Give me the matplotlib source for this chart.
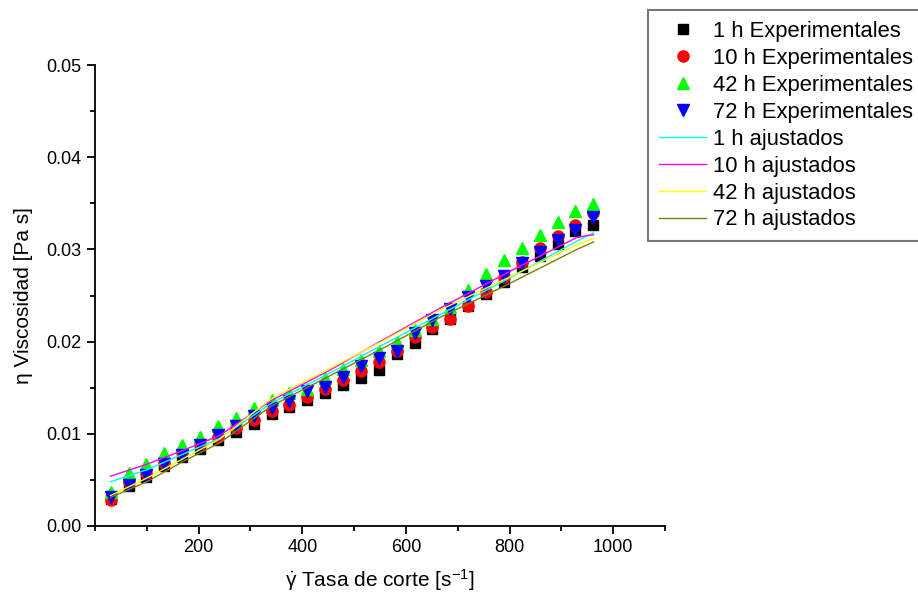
import matplotlib
matplotlib.use("Agg")
import matplotlib.pyplot as plt
from matplotlib.ticker import MultipleLocator, FormatStrFormatter

plt.rcParams['font.family'] = ['Liberation Sans', 'DejaVu Sans']
plt.rcParams['mathtext.fontset'] = 'custom'
plt.rcParams['mathtext.rm'] = 'Liberation Sans'
plt.rcParams['mathtext.it'] = 'Liberation Sans'

# Shear rate (x) for experimental points
shear_rate = [30, 65, 99, 134, 168, 203, 237, 272, 306, 341, 375, 410, 444, 479,
              513, 548, 582, 617, 651, 686, 720, 755, 789, 824, 858, 893, 927, 962]

visc_1h = [0.0029, 0.0043, 0.0053, 0.0065, 0.0075, 0.0084, 0.0093, 0.0102, 0.0111, 0.0121,
           0.0129, 0.0137, 0.0144, 0.0153, 0.0160, 0.0169, 0.0187, 0.0198, 0.0214, 0.0225,
           0.0239, 0.0252, 0.0265, 0.0281, 0.0293, 0.0306, 0.0320, 0.0326]
visc_10h = [0.0028, 0.0048, 0.0057, 0.0068, 0.0080, 0.0089, 0.0096, 0.0106, 0.0115, 0.0125,
            0.0131, 0.0140, 0.0149, 0.0158, 0.0168, 0.0178, 0.0190, 0.0205, 0.0216, 0.0225,
            0.0239, 0.0254, 0.0270, 0.0286, 0.0302, 0.0314, 0.0326, 0.0339]
visc_42h = [0.0037, 0.0058, 0.0067, 0.0079, 0.0088, 0.0097, 0.0108, 0.0117, 0.0128, 0.0137,
            0.0144, 0.0149, 0.0160, 0.0170, 0.0180, 0.0190, 0.0200, 0.0213, 0.0225, 0.0238,
            0.0256, 0.0273, 0.0288, 0.0301, 0.0316, 0.0330, 0.0342, 0.0349]
visc_72h = [0.0031, 0.0044, 0.0055, 0.0067, 0.0077, 0.0088, 0.0099, 0.0108, 0.0119, 0.0128,
            0.0136, 0.0146, 0.0151, 0.0162, 0.0173, 0.0182, 0.0190, 0.0209, 0.0223, 0.0235,
            0.0248, 0.0260, 0.0271, 0.0285, 0.0297, 0.0310, 0.0321, 0.0335]

# Fitted curves
fit_x = [30, 100, 170, 240, 340, 450, 550, 665, 800, 930, 962]
fit_1h = [0.0048, 0.0061, 0.0078, 0.0095, 0.0133, 0.0165, 0.0195, 0.0229, 0.0269, 0.0309, 0.0318]
fit_10h = [0.0054, 0.0067, 0.0082, 0.0098, 0.0136, 0.0168, 0.0200, 0.0236, 0.0276, 0.0313, 0.0316]
fit_42h = [0.0033, 0.0052, 0.0073, 0.0094, 0.0138, 0.0170, 0.0199, 0.0234, 0.0270, 0.0305, 0.0312]
fit_72h = [0.0031, 0.0048, 0.0070, 0.0090, 0.0130, 0.0162, 0.0191, 0.0226, 0.0263, 0.0300, 0.0308]

fig = plt.figure(figsize=(9.18, 5.98), dpi=100)
ax = fig.add_axes([95/918, 1-526/598, (665-95)/918, (526-65)/598])

h1, = ax.plot(shear_rate, visc_1h, 's', color='black', ms=6.5, ls='none', label='1 h Experimentales')
h2, = ax.plot(shear_rate, visc_10h, 'o', color='#ff0000', ms=8, ls='none', label='10 h Experimentales')
h3, = ax.plot(shear_rate, visc_42h, '^', color='#00ff00', ms=8.5, ls='none', label='42 h Experimentales')
h4, = ax.plot(shear_rate, visc_72h, 'v', color='#0000ff', ms=8.5, ls='none', label='72 h Experimentales')
l1, = ax.plot(fit_x, fit_1h, '-', color='#00ffff', lw=1.0, label='1 h ajustados')
l2, = ax.plot(fit_x, fit_10h, '-', color='#ff00ff', lw=1.0, label='10 h ajustados')
l3, = ax.plot(fit_x, fit_42h, '-', color='#ffff00', lw=1.0, label='42 h ajustados')
l4, = ax.plot(fit_x, fit_72h, '-', color='#808000', lw=1.0, label='72 h ajustados')

ax.set_xlim(0, 1100)
ax.set_ylim(0, 0.05)
ax.xaxis.set_minor_locator(MultipleLocator(100))
ax.yaxis.set_major_locator(MultipleLocator(0.01))
ax.yaxis.set_minor_locator(MultipleLocator(0.005))
ax.yaxis.set_major_formatter(FormatStrFormatter('%.2f'))
ax.set_xticks([200, 400, 600, 800, 1000])

for s in ['top', 'right']:
    ax.spines[s].set_visible(False)
for s in ['left', 'bottom']:
    ax.spines[s].set_linewidth(1.3)
ax.tick_params(which='major', direction='out', length=6, width=1.3, labelsize=13)
ax.tick_params(which='minor', direction='out', length=3.5, width=1.3)

ax.set_xlabel(r'$\dot{\gamma}$ Tasa de corte [s$^{-1}$]', fontsize=15, labelpad=8)
ax.set_ylabel('η Viscosidad [Pa s]', fontsize=15, labelpad=10)

leg = fig.legend(handles=[h1, h2, h3, h4, l1, l2, l3, l4],
                 loc='upper left', bbox_to_anchor=(648/918, 1-10/598),
                 fontsize=15.8, frameon=True, fancybox=False,
                 handlelength=2.15, handletextpad=0.32, labelspacing=0.27,
                 borderpad=0.5, borderaxespad=0)
leg.get_frame().set_edgecolor('#555555')
leg.get_frame().set_linewidth(1.5)

fig.savefig('out.png', dpi=100)
